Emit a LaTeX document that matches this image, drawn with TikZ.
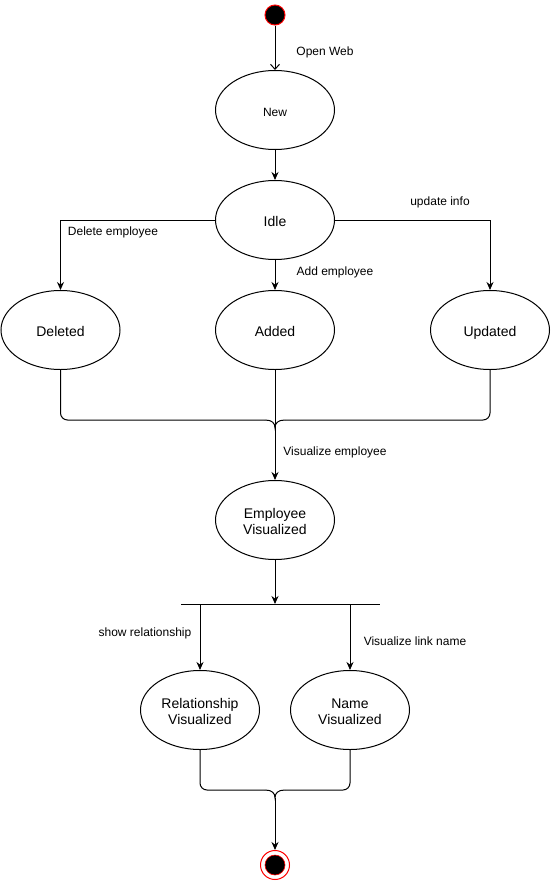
\documentclass[tikz,border=0pt]{standalone}
\usepackage{fontspec}
\setmainfont{Liberation Sans}
\usetikzlibrary{shapes.geometric,arrows.meta}
\begin{document}
\begin{tikzpicture}[x=1pt,y=-1pt,
  state/.style={ellipse,draw,line width=1pt,minimum width=119pt,minimum height=79pt,
    inner sep=0pt,align=center,font=\fontsize{14}{16}\selectfont},
  oneline/.style={text height=15pt,text depth=3pt},
  twoline/.style={text height=29pt,text depth=0pt},
  lbl/.style={inner sep=0pt,text height=13pt,text depth=3pt,font=\fontsize{12}{14}\selectfont},
  flow/.style={line width=1pt,-{Stealth[length=8pt,width=7pt]}},
  link/.style={line width=1pt},
]
\useasboundingbox (0,0) rectangle (551,881);

% states
\node[circle,fill=black,draw=red,line width=1pt,minimum size=20pt,inner sep=0pt] (start) at (275,15) {};
\node[state,oneline,font=\fontsize{12}{14}\selectfont] (new) at (275,110) {New};
\node[state,oneline] (idle) at (275,220) {Idle};
\node[state,oneline] (deleted) at (60.5,330) {Deleted};
\node[state,oneline] (added) at (275,330) {Added};
\node[state,oneline] (updated) at (490,330) {Updated};
\node[state,twoline] (empvis) at (275,520) {Employee\\Visualized};
\node[state,twoline] (relvis) at (200,710) {Relationship\\Visualized};
\node[state,twoline] (namevis) at (350,710) {Name\\Visualized};
\node[circle,draw=red,fill=white,line width=1pt,minimum size=29pt,inner sep=0pt] (end) at (275,865) {};
\filldraw[fill=black,draw=red,line width=0.6pt] (end.center) circle (10pt);

% fork bar
\coordinate (barL) at (181,604);
\coordinate (barM) at (275,604);
\coordinate (barR) at (380,604);
\draw[link] (barL) -- (barR);

% merge braces
\coordinate (braceL) at (265,420);
\coordinate (braceTip) at (275,428);
\coordinate (braceR) at (285,420);
\coordinate (brace2L) at (265,790);
\coordinate (brace2Tip) at (275,798);
\coordinate (brace2R) at (285,790);

% transitions
\draw[line width=1pt,-{Straight Barb[length=5pt,width=9pt]}] (start) -- (new);
\draw[flow] (new) -- (idle);
\draw[flow] (idle.west) -| (deleted.north);
\draw[flow] (idle) -- (added);
\draw[flow] (idle.east) -| (updated.north);

\draw[link,rounded corners=7pt] (deleted.south) |- (braceL);
\draw[link,rounded corners=7pt] (updated.south) |- (braceR);
\draw[link] (braceL) .. controls +(7,0) and +(0,-5) .. (braceTip)
  .. controls +(0,-5) and +(-7,0) .. (braceR);
\draw[flow] (added.south) -- (empvis.north);

\draw[flow] (empvis.south) -- (barM);
\draw[flow] (relvis.north |- barL) -- (relvis.north);
\draw[flow] (namevis.north |- barL) -- (namevis.north);

\draw[link,rounded corners=7pt] (relvis.south) |- (brace2L);
\draw[link,rounded corners=7pt] (namevis.south) |- (brace2R);
\draw[link] (brace2L) .. controls +(7,0) and +(0,-5) .. (brace2Tip)
  .. controls +(0,-5) and +(-7,0) .. (brace2R);
\draw[flow] (brace2Tip) -- (end.north);

% transition labels
\node[lbl] (lOpen) at (325,50) {Open Web};
\node[lbl] (lDel) at (113,230) {Delete employee};
\node[lbl] (lAdd) at (335,270) {Add employee};
\node[lbl] (lUpd) at (440,200) {update info};
\node[lbl] (lVis) at (335,450) {Visualize employee};
\node[lbl] (lRel) at (145,631) {show relationship};
\node[lbl] (lLink) at (415,640) {Visualize link name};
\end{tikzpicture}
\end{document}
